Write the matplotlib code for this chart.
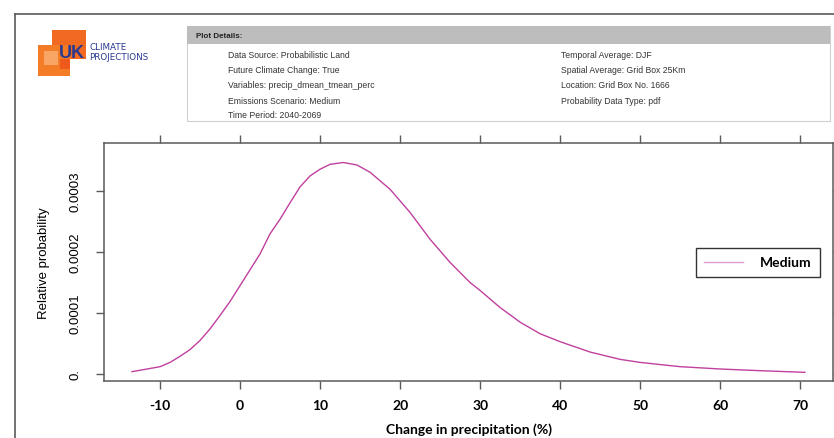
import matplotlib
matplotlib.use("Agg")
import matplotlib.pyplot as plt
from matplotlib.patches import Rectangle
from matplotlib.lines import Line2D

# change in precipitation (%) and relative probability
change_pct = [-13.5, -10, -8.75, -7.5, -6.25, -5, -3.75, -2.5, -1.25, 0, 1.25,
              2.5, 3.75, 5, 6.25, 7.5, 8.75, 10, 11.25, 12.9, 14.6, 16.25,
              18.75, 21.25, 23.75, 26.25, 28.75, 30, 31.25, 32.5, 35, 37.5, 40,
              43.75, 47.5, 50, 55, 60, 65, 70.6]
rel_prob = [3.8e-6, 1.2e-5, 1.9e-5, 2.9e-5, 4.0e-5, 5.5e-5, 7.4e-5, 9.6e-5,
            1.19e-4, 1.45e-4, 1.71e-4, 1.97e-4, 2.3e-4, 2.54e-4, 2.81e-4,
            3.07e-4, 3.25e-4, 3.36e-4, 3.44e-4, 3.47e-4, 3.43e-4, 3.31e-4,
            3.03e-4, 2.65e-4, 2.21e-4, 1.83e-4, 1.50e-4, 1.37e-4, 1.23e-4,
            1.09e-4, 8.5e-5, 6.6e-5, 5.3e-5, 3.6e-5, 2.4e-5, 1.9e-5, 1.2e-5,
            8.2e-6, 5.4e-6, 2.7e-6]
series_name = "Medium"

x_ticks = [-10, 0, 10, 20, 30, 40, 50, 60, 70]
y_ticks = [0, 0.0001, 0.0002, 0.0003]
y_tick_labels = ["0.", "0.0001", "0.0002", "0.0003"]

details_left = ["Data Source: Probabilistic Land", "Future Climate Change: True",
                "Variables: precip_dmean_tmean_perc", "Emissions Scenario: Medium",
                "Time Period: 2040-2069"]
details_right = ["Temporal Average: DJF", "Spatial Average: Grid Box 25Km",
                 "Location: Grid Box No. 1666", "Probability Data Type: pdf"]

W, H = 834, 439
LINE = "#c0409e"
GREY = "#5a5a5a"


def fx(px):
    return px / W


def fy(py):
    return 1 - py / H


fig = plt.figure(figsize=(W / 100, H / 100), dpi=100)

# outer frame
fig.add_artist(Line2D([fx(15), fx(15)], [fy(15), 0], color=GREY, lw=1.2))
fig.add_artist(Line2D([fx(15), 1], [fy(15), fy(15)], color=GREY, lw=1.2))

# logo
for (x0, y0, x1, y1, c) in [(52, 31, 86, 60, "#f26a21"), (38, 46, 70, 77, "#f47c26"),
                            (44, 52, 58, 66, "#f9a565"), (60, 60, 70, 70, "#ef5a1c")]:
    fig.add_artist(Rectangle((fx(x0), fy(y1)), fx(x1 - x0), (y1 - y0) / H,
                             color=c, lw=0))
fig.text(fx(59), fy(53), "UK", color="#2a3a8f", fontsize=13, fontweight="bold",
         family="Liberation Sans", va="center")
fig.text(fx(89), fy(47.5), "CLIMATE", color="#2a3a8f", fontsize=6.3,
         family="Liberation Sans Narrow", va="center")
fig.text(fx(89), fy(57), "PROJECTIONS", color="#2a3a8f", fontsize=6.3,
         family="Liberation Sans Narrow", va="center")

# plot details box
fig.add_artist(Rectangle((fx(187), fy(122)), fx(830 - 187), (122 - 27) / H,
                         facecolor="white", edgecolor="#d0d0d0", lw=0.8))
fig.add_artist(Rectangle((fx(187), fy(45)), fx(830 - 187), (45 - 27) / H,
                         facecolor="#bdbdbd", edgecolor="none"))
fig.text(fx(196), fy(36), "Plot Details:", fontsize=5.8, fontweight="bold",
         family="Liberation Sans", va="center", color="#222222")
for i, s in enumerate(details_left):
    fig.text(fx(228), fy(56 + 15 * i), s, fontsize=6.2, family="Liberation Sans",
             va="center", color="#333333")
for i, s in enumerate(details_right):
    fig.text(fx(561), fy(56 + 15 * i), s, fontsize=6.2, family="Liberation Sans",
             va="center", color="#333333")

# main axes
ax = fig.add_axes([fx(104), fy(382), fx(833 - 104), (382 - 144) / H])
ax.plot(change_pct, rel_prob, color=LINE, lw=1.0, label=series_name)
ax.set_xlim(-17, 74.1)
ax.set_ylim(-0.0000115, 0.000379)

for s in ax.spines.values():
    s.set_color(GREY)
    s.set_linewidth(1.1)

ax.set_xticks(x_ticks)
ax.set_xticklabels([str(v) for v in x_ticks], fontsize=10, fontweight="bold",
                   family="Lato")
ax.set_yticks(y_ticks)
ax.set_yticklabels(y_tick_labels, fontsize=9.5, rotation=90, va="center",
                   family="Liberation Sans")
ax.tick_params(axis="both", direction="out", length=6, width=1, color=GREY,
               top=True, right=True, labeltop=False, labelright=False)
ax.tick_params(axis="x", pad=7)
ax.tick_params(axis="y", pad=10)

ax.set_xlabel("Change in precipitation (%)", fontsize=10, fontweight="bold",
              family="Lato", labelpad=8)
ax.set_ylabel("Relative probability", fontsize=9.5, family="Liberation Sans",
              labelpad=14)

leg = ax.legend(loc="center left", bbox_to_anchor=(0.812, 0.498), borderaxespad=0,
                fancybox=False, framealpha=1, edgecolor="#333333",
                prop={"family": "Lato", "size": 10, "weight": "bold"},
                handlelength=2.8, handletextpad=1.2, borderpad=0.6)
leg.get_frame().set_linewidth(1.0)
for h in leg.get_lines():
    h.set_color("#d99ad0")

fig.savefig("out.png", dpi=100)
